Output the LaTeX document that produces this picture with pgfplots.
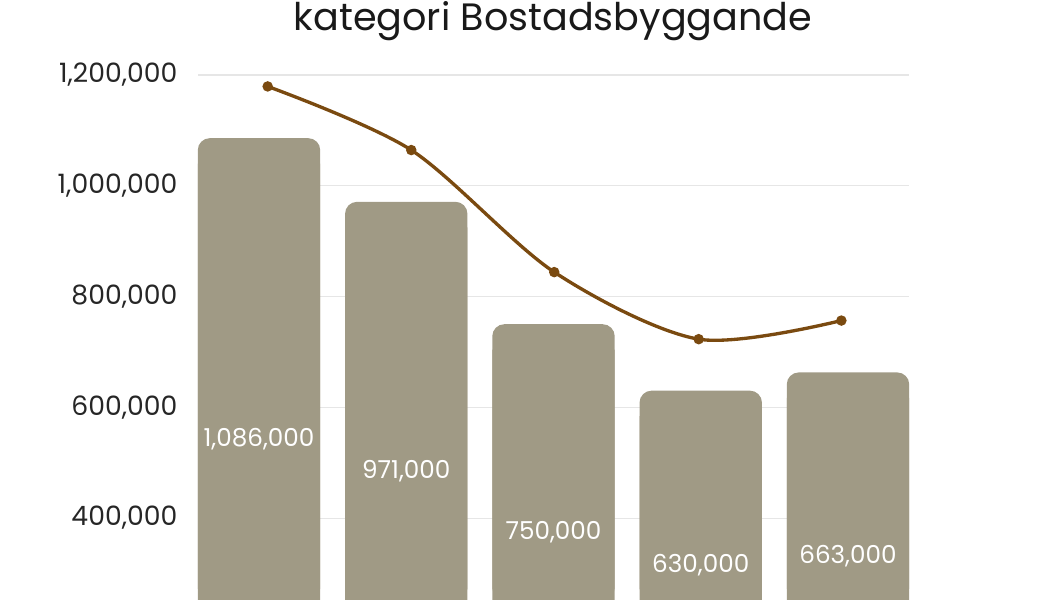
\documentclass[border=0pt]{standalone}
\usepackage{pgfplots}
\pgfplotsset{compat=1.18}
\usepackage{pgfplotstable}
\usepackage{fontspec}
\setmainfont{Poppins}

\definecolor{barcol}{HTML}{A09A85}
\definecolor{linecol}{HTML}{7A4A10}
\definecolor{gridcol}{HTML}{E6E6E6}

% bars: x, value, half height for the label, lower square part
\pgfplotstableread{
x val half low
0 1086000 543000 1040000
1 971000 485500 925000
2 750000 375000 704000
3 630000 315000 584000
4 663000 331500 617000
}\bardata

% trend line
\pgfplotstableread{
x y
0.059 1179400
1.034 1064500
2.005 844100
2.986 723000
3.955 756600
}\linedata

\begin{document}
\begin{tikzpicture}
\useasboundingbox (-148.5pt,0pt) rectangle (639pt,450pt);
\begin{axis}[
    at={(0pt,0pt)}, anchor=south west,
    scale only axis,
    width=533.25pt, height=414.5pt,
    xmin=-0.4143, xmax=4.4143,
    ymin=252000, ymax=1250000,
    axis line style={draw=none},
    ytick={200000,400000,600000,800000,1000000,1200000},
    xtick=\empty,
    ymajorgrids,
    grid style={gridcol, line width=0.8pt},
    major tick length=0pt,
    scaled y ticks=false,
    /pgf/number format/fixed,
    /pgf/number format/precision=0,
    /pgf/number format/assume math mode=true,
    /pgf/number format/1000 sep={,},
    yticklabel style={font=\fontsize{20}{22}\selectfont, anchor=east, xshift=-12pt, text=black!85},
    clip=true,
]
\addplot[ybar, bar width=91.8pt, fill=barcol, draw=none, rounded corners=9pt]
    table[x=x, y=val] {\bardata};
\addplot[ybar, bar width=91.8pt, fill=barcol, draw=none]
    table[x=x, y=low] {\bardata};
\addplot[only marks, mark=none, point meta=explicit,
    nodes near coords={\pgfmathprintnumber[fixed, precision=0, 1000 sep={,}, assume math mode=true]{\pgfplotspointmeta}},
    nodes near coords style={anchor=center, text=white, font=\fontsize{18.5}{20}\selectfont}]
    table[x=x, y=half, meta=val] {\bardata};
\addplot[linecol, line width=2.5pt, smooth, mark=*, mark size=2.6pt]
    table[x=x, y=y] {\linedata};
\end{axis}
\node[anchor=base, font=\fontsize{28.6}{32}\selectfont, text=black!90] at (266.25pt,426.75pt) {kategori Bostadsbyggande};
\end{tikzpicture}
\end{document}
